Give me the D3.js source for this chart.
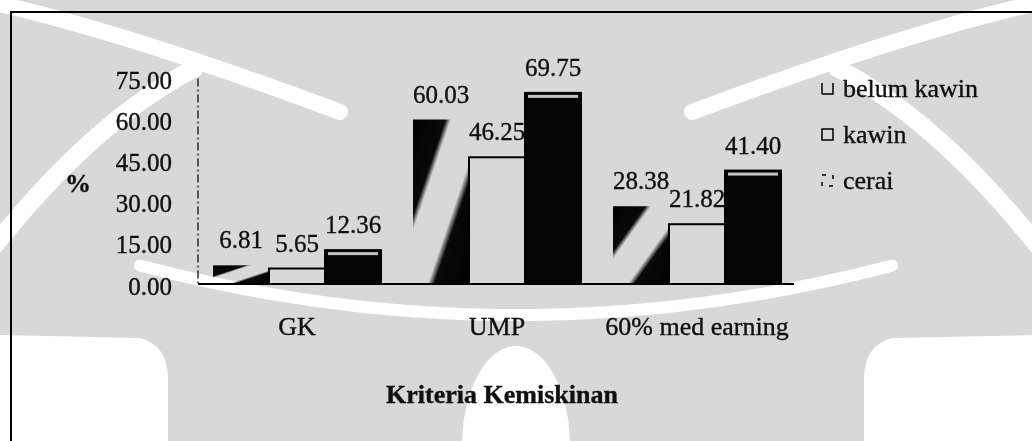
<!DOCTYPE html>
<html>
<head>
<meta charset="utf-8">
<script src="https://cdn.jsdelivr.net/npm/d3@7"></script>
<style>
  html, body { margin: 0; padding: 0; background: #fff; }
  svg { display: block; }
  text { font-family: "Liberation Serif", "Times New Roman", serif; fill: #111; stroke: #111; stroke-width: 0.35px; }
</style>
</head>
<body>
<svg id="chart" width="1032" height="441"></svg>
<script>
// Poverty criteria by marital status (%)
const categories = ["GK", "UMP", "60% med earning"];
const seriesNames = ["belum kawin", "kawin", "cerai"];
const belumKawin = [6.81, 60.03, 28.38];
const kawin = [5.65, 46.25, 21.82];
const cerai = [12.36, 69.75, 41.40];
const yTicks = [0, 15, 30, 45, 60, 75];
const yTitle = "%";
const xTitle = "Kriteria Kemiskinan";

const seriesValues = [belumKawin, kawin, cerai];

const svg = d3.select("#chart");
const W = 1032, H = 441;

svg.append("rect").attr("width", W).attr("height", H).attr("fill", "#fff");

// fills
const defs = svg.append("defs");
const grad = defs.append("linearGradient")
  .attr("id", "diag").attr("x1", 0).attr("y1", 0).attr("x2", 1).attr("y2", 1);
[[0, "#000"], [0.29, "#0a0a0a"], [0.34, "#fff"], [0.63, "#fff"], [0.69, "#0a0a0a"], [1, "#000"]]
  .forEach(([o, c]) => grad.append("stop").attr("offset", o).attr("stop-color", c));

const fills = { "belum kawin": "url(#diag)", "kawin": "#fff", "cerai": "#050505" };

// scales
const x0 = d3.scaleBand().domain(categories).range([197, 797]).paddingInner(0.16).paddingOuter(0.08);
const x1 = d3.scaleBand().domain(seriesNames).range([0, x0.bandwidth()]);
const y = d3.scaleLinear().domain([0, 75]).range([284, 78.5]);

// frame
svg.append("path").attr("d", "M11,441 V12 H1032").attr("fill", "none")
  .attr("stroke", "#000").attr("stroke-width", 2);

// y axis
const yAxis = d3.axisLeft(y).tickValues(yTicks).tickSize(0).tickPadding(26)
  .tickFormat(d3.format(".2f"));
const gy = svg.append("g").attr("transform", "translate(198,0)").call(yAxis);
gy.select(".domain").remove();
gy.selectAll("text").attr("dy", null).attr("y", 10)
  .style("font-family", "Liberation Serif").style("font-size", "25px").attr("fill", "#111");
svg.append("line").attr("x1", 198).attr("x2", 198).attr("y1", y(75)).attr("y2", y(0))
  .attr("stroke", "#222").attr("stroke-width", 1.4).attr("stroke-dasharray", "8,3,2,3");

// bars
const rows = categories.map((c, i) => ({ cat: c, vals: seriesNames.map((s, j) => ({ s, v: seriesValues[j][i] })) }));
const groups = svg.append("g").selectAll("g").data(rows).join("g")
  .attr("transform", d => `translate(${x0(d.cat)},0)`);

groups.selectAll("rect.bar").data(d => d.vals).join("rect").attr("class", "bar")
  .attr("x", d => x1(d.s)).attr("y", d => y(d.v))
  .attr("width", x1.bandwidth()).attr("height", d => y(0) - y(d.v))
  .attr("fill", d => fills[d.s])
  .attr("stroke", d => d.s === "belum kawin" ? "none" : "#000")
  .attr("stroke-width", 2);

// light top streak on the dark bars
groups.selectAll("rect.streak").data(d => d.vals.filter(e => e.s === "cerai")).join("rect")
  .attr("class", "streak")
  .attr("x", d => x1(d.s) + 3).attr("y", d => y(d.v) + 2)
  .attr("width", x1.bandwidth() - 6).attr("height", 3)
  .attr("fill", "#e6e6e6");

// value labels
groups.selectAll("text.val").data(d => d.vals).join("text").attr("class", "val")
  .attr("x", d => x1(d.s) + x1.bandwidth() / 2).attr("y", d => y(d.v) - 17)
  .attr("text-anchor", "middle").style("font-size", "25px")
  .text(d => d3.format(".2f")(d.v));

// baseline
svg.append("line").attr("x1", 198).attr("x2", 794).attr("y1", y(0)).attr("y2", y(0))
  .attr("stroke", "#000").attr("stroke-width", 2);

// category labels
svg.append("g").selectAll("text").data(categories).join("text")
  .attr("x", d => x0(d) + x0.bandwidth() / 2).attr("y", 335)
  .attr("text-anchor", "middle").style("font-size", "26px").text(d => d);

// titles
svg.append("text").attr("x", 78).attr("y", 192).attr("text-anchor", "middle")
  .style("font-size", "26px").style("font-weight", "bold").text(yTitle);
svg.append("text").attr("x", 502).attr("y", 403).attr("text-anchor", "middle")
  .style("font-size", "26px").style("font-weight", "bold").text(xTitle);

// legend
const leg = svg.append("g").selectAll("g").data(seriesNames).join("g")
  .attr("transform", (d, i) => `translate(822,${97 + i * 46})`);
leg.append("rect").attr("x", 0).attr("y", -14).attr("width", 11).attr("height", 11)
  .attr("fill", d => d === "kawin" ? "#fff" : "none")
  .attr("stroke", "#000").attr("stroke-width", 1.5)
  .attr("stroke-dasharray", d => d === "kawin" ? null : (d === "cerai" ? "4,7" : "0,11,22"));
leg.append("text").attr("x", 21).attr("y", 0).style("font-size", "26px").text(d => d);

// background emblem: grey field with light sweeping bands, multiplied over the drawing
const wm = svg.append("g").style("mix-blend-mode", "multiply");
wm.append("rect").attr("width", W).attr("height", H).attr("fill", "#d8d8d8");
const cx = W / 2;
const mirror = () => `translate(${W},0) scale(-1,1)`;
const band = (d, w) => [0, 1].forEach(m => wm.append("path").attr("d", d)
  .attr("transform", m ? mirror() : null).attr("fill", "none")
  .attr("stroke", "#fff").attr("stroke-width", w).attr("stroke-linecap", "round"));
const blob = d => [0, 1].forEach(m => wm.append("path").attr("d", d)
  .attr("transform", m ? mirror() : null).attr("fill", "#fff"));
// upper corner crescents
band("M-10,2 Q120,30 340,112", 16);
// side sweeps
band("M195,68 Q95,120 -5,245", 18);
// lower smile band
const smile = d3.range(140, cx + 1, 8).map(x => [x, 315 - 0.00035 * (x - cx) * (x - cx)]);
band(d3.line()(smile), 12);
// lower corners
blob("M-5,335 L140,338 Q168,345 168,380 L168,446 L-5,446 Z");
// central dome
wm.append("ellipse").attr("cx", cx).attr("cy", 446).attr("rx", 54).attr("ry", 100).attr("fill", "#fff");
</script>
</body>
</html>
